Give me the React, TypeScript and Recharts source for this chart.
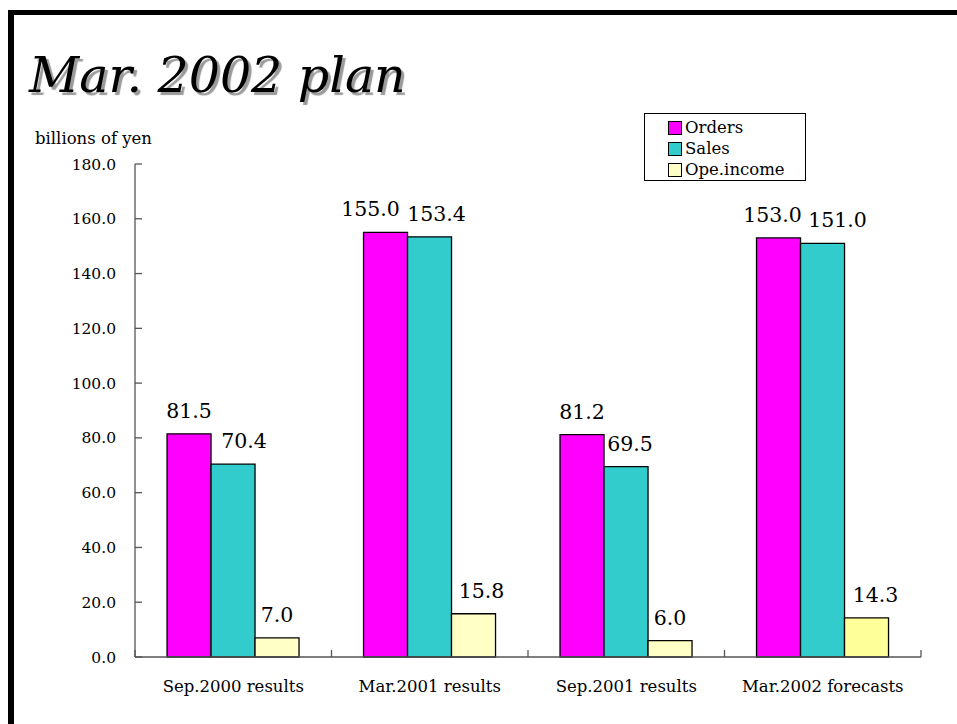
import React from "react";
import { BarChart, Bar, XAxis, YAxis, Legend, LabelList, Cell } from "recharts";

// ---- data ----
const categories = ["Sep.2000 results", "Mar.2001 results", "Sep.2001 results", "Mar.2002 forecasts"];
const orders = [81.5, 155.0, 81.2, 153.0];
const sales = [70.4, 153.4, 69.5, 151.0];
const opeIncome = [7.0, 15.8, 6.0, 14.3];
const seriesNames = ["Orders", "Sales", "Ope.income"];
const yTicks = [0, 20, 40, 60, 80, 100, 120, 140, 160, 180];

// ---- styles ----
const FONT = "DejaVu Serif";
const ORDERS_COLOR = "#FF00FF";
const SALES_COLOR = "#33CCCC";
const OPE_COLORS = ["#FFFFC6", "#FFFFC6", "#FFFFC6", "#FFFF99"];
const AXIS_COLOR = "#555555";
// horizontal nudges of value labels (px), as placed in the original slide
const NUDGE_ORDERS = [0, -15, 0, -6];
const NUDGE_SALES = [11, 7, 4, 15];
const NUDGE_OPE = [0, 8, 0, 9];

const data = categories.map((c, i) => ({
  name: c,
  orders: orders[i],
  sales: sales[i],
  ope: opeIncome[i],
}));

const makeLabel = (nudge: number[]) => (props: any) => {
  const { x, y, width, value, index } = props;
  return (
    <text
      x={Number(x) + Number(width) / 2 + (nudge[index] || 0)}
      y={Number(y) - 16}
      textAnchor="middle"
      fontFamily={FONT}
      fontSize={20.5}
      fill="#000"
    >
      {Number(value).toFixed(1)}
    </text>
  );
};

const XTick = (props: any) => {
  const { x, y, payload, index, visibleTicksCount } = props;
  const off = payload && payload.offset ? payload.offset : 0;
  const last = index === (visibleTicksCount ?? categories.length) - 1;
  return (
    <g>
      <line x1={x - off} y1={y} x2={x - off} y2={y - 7} stroke={AXIS_COLOR} strokeWidth={1.3} />
      {last && <line x1={x + off} y1={y} x2={x + off} y2={y - 7} stroke={AXIS_COLOR} strokeWidth={1.3} />}
      <text x={x} y={y + 35} textAnchor="middle" fontFamily={FONT} fontSize={16.5} fill="#000">
        {payload.value}
      </text>
    </g>
  );
};

const YTick = (props: any) => {
  const { x, y, payload } = props;
  return (
    <g>
      <line x1={x} y1={y} x2={x + 7} y2={y} stroke={AXIS_COLOR} strokeWidth={1.3} />
      <text x={x - 19} y={y} dy="0.36em" textAnchor="end" fontFamily={FONT} fontSize={15.5} fill="#000">
        {Number(payload.value).toFixed(1)}
      </text>
    </g>
  );
};

const legendColors = [ORDERS_COLOR, SALES_COLOR, OPE_COLORS[0]];

const LegendBox = () => (
  <div
    style={{
      border: "1.5px solid #000",
      background: "#fff",
      width: 162,
      height: 68,
      boxSizing: "border-box",
      paddingTop: 3,
      paddingLeft: 23,
      fontFamily: FONT,
      fontSize: 16.5,
      lineHeight: "21px",
    }}
  >
    {seriesNames.map((n, i) => (
      <div key={n} style={{ display: "flex", alignItems: "center", height: 21 }}>
        <span
          style={{
            display: "inline-block",
            width: 14,
            height: 14,
            background: legendColors[i],
            border: "1px solid #000",
            marginRight: 3,
            boxSizing: "border-box",
          }}
        />
        <span>{n}</span>
      </div>
    ))}
  </div>
);

export default function App() {
  return (
    <div
      style={{
        position: "absolute",
        left: 0,
        top: 0,
        width: 957,
        height: 724,
        background: "#fff",
        overflow: "hidden",
        fontFamily: FONT,
      }}
    >
      <div
        style={{
          position: "absolute",
          left: 8,
          top: 10,
          width: 1000,
          height: 800,
          borderTop: "5px solid #000",
          borderLeft: "6px solid #000",
        }}
      />
      <div
        style={{
          position: "absolute",
          left: 29,
          top: 46,
          fontFamily: FONT,
          fontStyle: "italic",
          fontSize: 49,
          lineHeight: "60px",
          color: "#000",
          textShadow: "3px 3px 1px #9a9a9a",
          whiteSpace: "nowrap",
        }}
      >
        Mar. 2002 plan
      </div>
      <div
        style={{
          position: "absolute",
          left: 35,
          top: 129,
          fontFamily: FONT,
          fontSize: 16.5,
          lineHeight: "20px",
          color: "#000",
          whiteSpace: "nowrap",
        }}
      >
        billions of yen
      </div>
      <div style={{ position: "absolute", left: 0, top: 0 }}>
        <BarChart
          width={957}
          height={724}
          data={data}
          margin={{ top: 164, right: 36, bottom: 27, left: 35 }}
          barCategoryGap="16.3%"
          barGap={0}
        >
          <XAxis
            dataKey="name"
            axisLine={{ stroke: AXIS_COLOR, strokeWidth: 1.3 }}
            tickLine={false}
            tickSize={0}
            tickMargin={0}
            height={40}
            tick={<XTick />}
            interval={0}
          />
          <YAxis
            domain={[0, 180]}
            ticks={yTicks}
            width={100}
            axisLine={{ stroke: AXIS_COLOR, strokeWidth: 1.3 }}
            tickLine={false}
            tickSize={0}
            tickMargin={0}
            tick={<YTick />}
            interval={0}
          />
          <Legend
            layout="vertical"
            align="center"
            verticalAlign="middle"
            content={() => <LegendBox />}
            wrapperStyle={{ left: 644, top: 113, width: 162, height: 68 }}
          />
          <Bar dataKey="orders" name="Orders" fill={ORDERS_COLOR} stroke="#000" strokeWidth={1.3} isAnimationActive={false}>
            <LabelList dataKey="orders" content={makeLabel(NUDGE_ORDERS)} />
          </Bar>
          <Bar dataKey="sales" name="Sales" fill={SALES_COLOR} stroke="#000" strokeWidth={1.3} isAnimationActive={false}>
            <LabelList dataKey="sales" content={makeLabel(NUDGE_SALES)} />
          </Bar>
          <Bar dataKey="ope" name="Ope.income" fill={OPE_COLORS[0]} stroke="#000" strokeWidth={1.3} isAnimationActive={false}>
            {data.map((d, i) => (
              <Cell key={d.name} fill={OPE_COLORS[i]} />
            ))}
            <LabelList dataKey="ope" content={makeLabel(NUDGE_OPE)} />
          </Bar>
        </BarChart>
      </div>
    </div>
  );
}
